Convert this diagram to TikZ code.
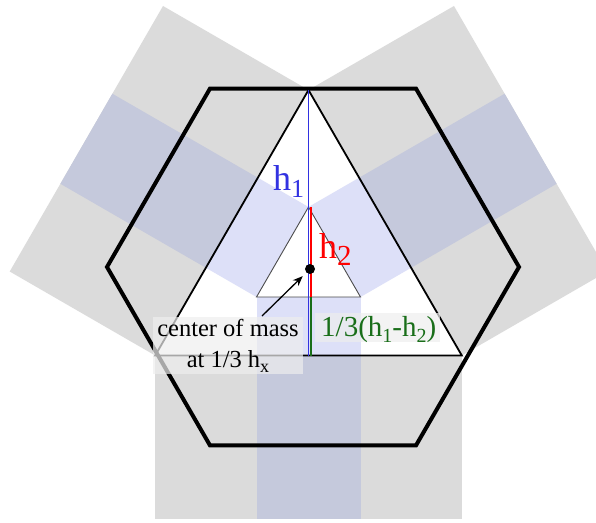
\documentclass[tikz,border=0pt]{standalone}
\usepackage{fontspec}
\setmainfont{Liberation Serif}
\usetikzlibrary{arrows.meta}
\definecolor{armgray}{RGB}{219,219,219}
\definecolor{stripeout}{RGB}{197,201,220}
\definecolor{stripein}{RGB}{221,224,248}
\definecolor{hblue}{RGB}{50,50,225}
\definecolor{hred}{RGB}{255,0,0}
\definecolor{hgreen}{RGB}{25,110,25}
\definecolor{boxfill}{RGB}{238,238,238}
\tikzset{
  labelbox/.style={fill=boxfill, fill opacity=0.7, text opacity=1, inner sep=0pt},
  hexline/.style={line width=4pt, line join=miter},
  bigtri/.style={line width=1.8pt, line join=miter},
  smalltri/.style={line width=0.9pt, draw=black!70},
  lbl/.style={inner sep=0pt, anchor=base west}
}
\begin{document}
\begin{tikzpicture}[x=1pt,y=1pt]
\useasboundingbox (-308.5,-255) rectangle (287.5,267);
\clip (-308.5,-255) rectangle (287.5,267);
% arms
\foreach \a/\L in {0/163,120/168,240/168}{
  \begin{scope}[rotate=\a]
    \fill[armgray] (-153.3,-88.5) -- (153.3,-88.5) -- (153.3,-88.5-\L) -- (-153.3,-88.5-\L) -- cycle;
    \fill[stripeout] (-52,-88.5) -- (52,-88.5) -- (52,-88.5-\L) -- (-52,-88.5-\L) -- cycle;
  \end{scope}
}
% big triangle fill
\coordinate (A) at (0,177);
\coordinate (B) at (-153.3,-88.5);
\coordinate (C) at (153.3,-88.5);
\coordinate (a) at (0,60);
\coordinate (b) at (-52,-30);
\coordinate (c) at (52,-30);
\fill[white] (A) -- (B) -- (C) -- cycle;
% inner stripes
\foreach \a in {0,120,240}{
  \begin{scope}[rotate=\a]
    \fill[stripein] (-52,-30) -- (52,-30) -- (52,-88.5) -- (-52,-88.5) -- cycle;
  \end{scope}
}
% outlines
\draw[bigtri] (A) -- (B) -- (C) -- cycle;
\draw[smalltri] (a) -- (b) -- (c) -- cycle;
\draw[hexline] (210.5,0) -- (107.5,178.4) -- (-98.5,178.4) -- (-201.5,0) -- (-98.5,-178.4) -- (107.5,-178.4) -- cycle;
% heights
\draw[hblue, line width=1.4pt] (0,177) -- (0,-88.5);
\draw[hred, line width=2.6pt] (2.4,60) -- (2.4,-30);
\draw[hgreen, line width=2.4pt] (2.4,-30) -- (2.4,-88.5);
% centre of mass
\node[circle, fill=black, inner sep=0pt, minimum size=10pt] (com) at (1.5,-2) {};
% labels
\node[lbl, text=hblue, font=\fontsize{36}{36}\selectfont] (lh1) at (-35.5,76) {h\raisebox{-7pt}{\fontsize{26}{26}\selectfont 1}};
\node[lbl, text=hred, font=\fontsize{36}{36}\selectfont] (lh2) at (10.5,9) {h\raisebox{-7pt}{\fontsize{29}{29}\selectfont 2}};
\node[labelbox, minimum width=125pt, minimum height=29pt] (gbox) at (69,-60.5) {};
\node[lbl, text=hgreen, font=\fontsize{29}{29}\selectfont] (lg) at (12.5,-69) {1/3(h\raisebox{-6pt}{\fontsize{20}{20}\selectfont 1}-h\raisebox{-6pt}{\fontsize{20}{20}\selectfont 2})};
\node[labelbox, minimum width=150pt, minimum height=57pt, align=center, font=\fontsize{24.5}{31}\selectfont] (cm) at (-80.5,-78.5) {center of mass\\at 1/3 h\raisebox{-5pt}{\fontsize{18}{18}\selectfont x}};
\coordinate (atail) at (-46.5,-49);
\draw[line width=1.3pt, -{Stealth[length=10pt,width=8pt]}, shorten >=5pt] (atail) -- (com);
\end{tikzpicture}
\end{document}
